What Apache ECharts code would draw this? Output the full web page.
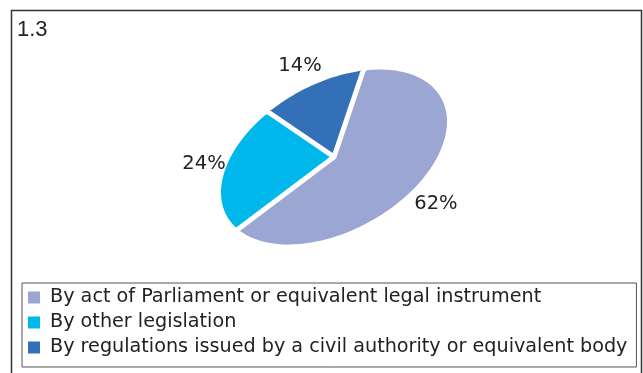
<!DOCTYPE html>
<html>
<head>
<meta charset="utf-8">
<script src="https://cdn.jsdelivr.net/npm/echarts@6/dist/echarts.min.js"></script>
<style>
  html, body { margin: 0; padding: 0; background: #fff; }
  #chart { width: 643px; height: 373px; }
</style>
</head>
<body>
<div id="chart"></div>
<script>
// Ways the body is established: share of respondents
const categories = [
  'By act of Parliament or equivalent legal instrument',
  'By other legislation',
  'By regulations issued by a civil authority or equivalent body'
];
const values = [62, 24, 14];
const colors = ['#9BA6D3', '#00B7EC', '#3470B8'];
const chartNumber = '1.3';

// Tilted (sheared) pie: circle mapped through a linear transform
const CX = 334, CY = 157;          // centre of the ellipse
const MX = 113, MXY = -35.4, MY = 80; // x = MX*cos, y = MXY*cos + MY*sin
const START_ANGLE = -75;           // first slice starts here, clockwise
const GAP = 5;                     // white gap between slices
const LABEL_R = 1.3;
const labelNudge = [[-16, 22], [14, -18], [-8, 3]];

const total = values.reduce((a, b) => a + b, 0);

function pt(phiDeg, r) {
  const p = phiDeg * Math.PI / 180;
  const c = Math.cos(p), s = Math.sin(p);
  return [CX + r * MX * c, CY + r * (MXY * c + MY * s)];
}
function unit(v) { const l = Math.hypot(v[0], v[1]); return [v[0] / l, v[1] / l]; }

function makeRenderer(idx) {
  return function (params, api) {
    const v = api.value(0);
    let before = 0;
    for (let k = 0; k < idx; k++) before += values[k];
    const a0 = START_ANGLE + before / total * 360;
    const a1 = a0 + v / total * 360;
    const p0 = pt(a0, 1), p1 = pt(a1, 1);
    const d1 = unit([p0[0] - CX, p0[1] - CY]);
    const d2 = unit([p1[0] - CX, p1[1] - CY]);
    const n1 = [-d1[1], d1[0]];   // into slice from start edge
    const n2 = [d2[1], -d2[0]];   // into slice from end edge
    const h = GAP / 2;
    const det = n1[0] * n2[1] - n1[1] * n2[0];
    const tx = (h * n2[1] - n1[1] * h) / det;
    const ty = (n1[0] * h - h * n2[0]) / det;
    const points = [[CX + tx, CY + ty]];
    const steps = Math.max(8, Math.ceil((a1 - a0) / 2));
    for (let i = 0; i <= steps; i++) {
      const a = a0 + (a1 - a0) * i / steps;
      let p = pt(a, 1);
      if (i === 0) p = [p[0] + n1[0] * h, p[1] + n1[1] * h];
      if (i === steps) p = [p[0] + n2[0] * h, p[1] + n2[1] * h];
      points.push(p);
    }
    const mid = (a0 + a1) / 2;
    const lp = pt(mid, LABEL_R);
    return {
      type: 'group',
      children: [
        { type: 'polygon', shape: { points: points }, style: { fill: colors[idx] } },
        {
          type: 'text',
          x: lp[0] + labelNudge[idx][0],
          y: lp[1] + labelNudge[idx][1],
          style: {
            text: v + '%', fill: '#222', fontSize: 19.5,
            fontFamily: 'DejaVu Sans', align: 'center', verticalAlign: 'middle'
          }
        }
      ]
    };
  };
}

const chart = echarts.init(document.getElementById('chart'), null, { renderer: 'canvas' });
chart.setOption({
  animation: false,
  backgroundColor: '#fff',
  legend: {
    left: 22, top: 283,
    orient: 'vertical',
    icon: 'rect',
    itemWidth: 12, itemHeight: 12,
    itemGap: 6,
    padding: [5, 9, 10, 6],
    borderColor: '#555', borderWidth: 1,
    selectedMode: false,
    textStyle: { fontFamily: 'DejaVu Sans', fontSize: 19.2, color: '#222', padding: [0, 0, 0, 5] },
    data: categories
  },
  graphic: [
    { type: 'rect', shape: { x: 11.5, y: 10.5, width: 630, height: 400 },
      style: { fill: 'none', stroke: '#333', lineWidth: 1.5 }, silent: true },
    { type: 'text', left: 17, top: 19,
      style: { text: chartNumber, fontFamily: 'Liberation Sans', fontSize: 22, fill: '#222' } }
  ],
  series: categories.map((name, i) => ({
    type: 'custom',
    name: name,
    coordinateSystem: 'none',
    itemStyle: { color: colors[i] },
    renderItem: makeRenderer(i),
    data: [[values[i]]]
  }))
});
</script>
</body>
</html>
